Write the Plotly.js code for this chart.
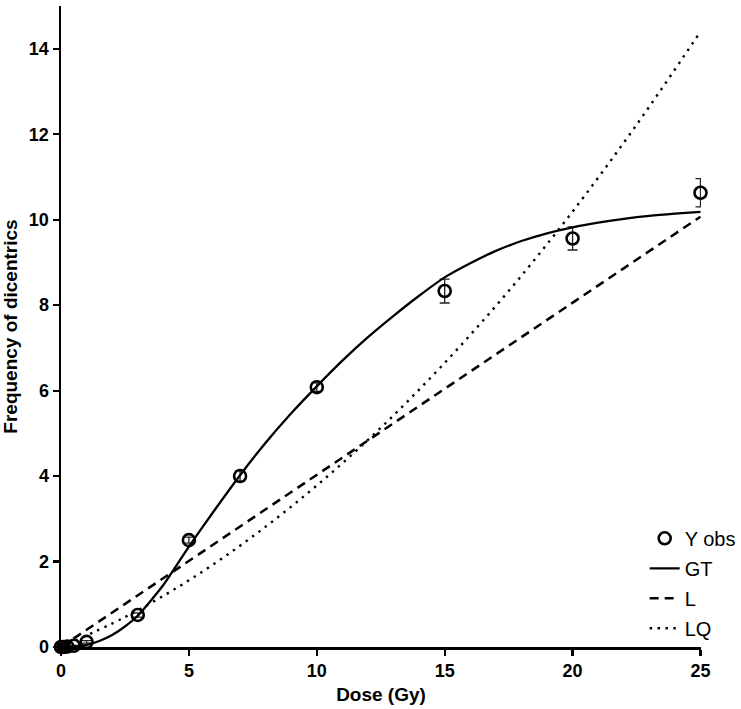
<!DOCTYPE html>
<html>
<head>
<meta charset="utf-8">
<script src="https://cdn.plot.ly/plotly-3.0.1.min.js"></script>
<style>html,body{margin:0;padding:0;background:#fff}#chart{width:741px;height:709px}</style>
</head>
<body>
<div id="chart"></div>
<script>
// Observed data
const obsDose = [0, 0.1, 0.25, 0.5, 1, 3, 5, 7, 10, 15, 20, 25];
const obsY    = [0, 0.0, 0.01, 0.03, 0.12, 0.75, 2.5, 4.0, 6.08, 8.33, 9.56, 10.63];
const obsErr  = [0, 0, 0, 0.01, 0.03, 0.05, 0.07, 0.12, 0.1, 0.28, 0.27, 0.33];

// GT fit curve
const gtDose = [0, 0.5, 1, 1.5, 2, 2.5, 3, 4, 5, 6, 7, 8, 9, 10, 11, 12, 13, 14, 15, 16, 17, 18, 19, 20, 21, 22, 23, 24, 25];
const gtY    = [0, 0.01, 0.05, 0.14, 0.28, 0.48, 0.73, 1.45, 2.35, 3.2, 4.02, 4.78, 5.47, 6.1, 6.7, 7.25, 7.75, 8.22, 8.65, 8.98, 9.27, 9.5, 9.68, 9.82, 9.93, 10.02, 10.09, 10.14, 10.18];

// L fit curve
const lDose = [0, 5, 10, 15, 20, 25];
const lY    = [0, 2.01, 4.03, 6.04, 8.06, 10.07];

// LQ fit curve
const lqDose = [0, 2.5, 5, 7.5, 10, 12.5, 15, 17.5, 20, 22.5, 25];
const lqY    = [0, 0.70, 1.56, 2.59, 3.78, 5.13, 6.65, 8.33, 10.19, 12.22, 14.4];

const xTicks = [0, 5, 10, 15, 20, 25];
const yTicks = [0, 2, 4, 6, 8, 10, 12, 14];

const traces = [
  {x: obsDose, y: obsY, name: 'Y obs', type: 'scatter', mode: 'markers', legendgroup: 'a',
   marker: {symbol: 'circle-open', size: 12, color: '#000', line: {width: 2.6, color: '#000'}},
   error_y: {type: 'data', array: obsErr, visible: true, color: '#222', thickness: 1.3, width: 5},
   cliponaxis: false},
  {x: gtDose, y: gtY, name: 'GT', type: 'scatter', mode: 'lines', legendgroup: 'b',
   line: {color: '#000', width: 2.3, shape: 'spline', smoothing: 0.6}},
  {x: lDose, y: lY, name: 'L', type: 'scatter', mode: 'lines', legendgroup: 'c',
   line: {color: '#000', width: 2.5, dash: '9px,6px'}},
  {x: lqDose, y: lqY, name: 'LQ', type: 'scatter', mode: 'lines', legendgroup: 'd',
   line: {color: '#000', width: 2.4, dash: '2.4px,5.5px', shape: 'spline'}}
];

const layout = {
  width: 741, height: 709,
  margin: {l: 61, r: 40, t: 6, b: 62, autoexpand: false},
  paper_bgcolor: '#fff', plot_bgcolor: '#fff',
  font: {family: 'Liberation Sans, Arial, sans-serif', color: '#000', size: 17},
  showlegend: true,
  legend: {x: 0.912, xanchor: 'left', y: 0.2, yanchor: 'top', bgcolor: 'rgba(0,0,0,0)',
           font: {size: 20, color: '#000'}, tracegroupgap: 1, itemwidth: 30},
  xaxis: {
    range: [0, 25.02], tickvals: xTicks, ticktext: xTicks.map(v => '<b>' + v + '</b>'),
    showline: true, linecolor: '#000', linewidth: 2.5, ticks: 'outside', ticklen: 6, tickwidth: 2.2, tickcolor: '#000',
    showgrid: false, zeroline: false, tickfont: {size: 18},
    title: {text: '<b>Dose (Gy)</b>', font: {size: 19}, standoff: 8}
  },
  yaxis: {
    range: [0, 15], tickvals: yTicks, ticktext: yTicks.map(v => '<b>' + v + '</b>'),
    showline: true, linecolor: '#000', linewidth: 2.5, ticks: 'outside', ticklen: 6, tickwidth: 2.2, tickcolor: '#000',
    showgrid: false, zeroline: false, tickfont: {size: 18},
    title: {text: '<b>Frequency of dicentrics</b>', font: {size: 19}, standoff: 6}
  }
};

Plotly.newPlot('chart', traces, layout, {displayModeBar: false, staticPlot: true});
</script>
</body>
</html>
